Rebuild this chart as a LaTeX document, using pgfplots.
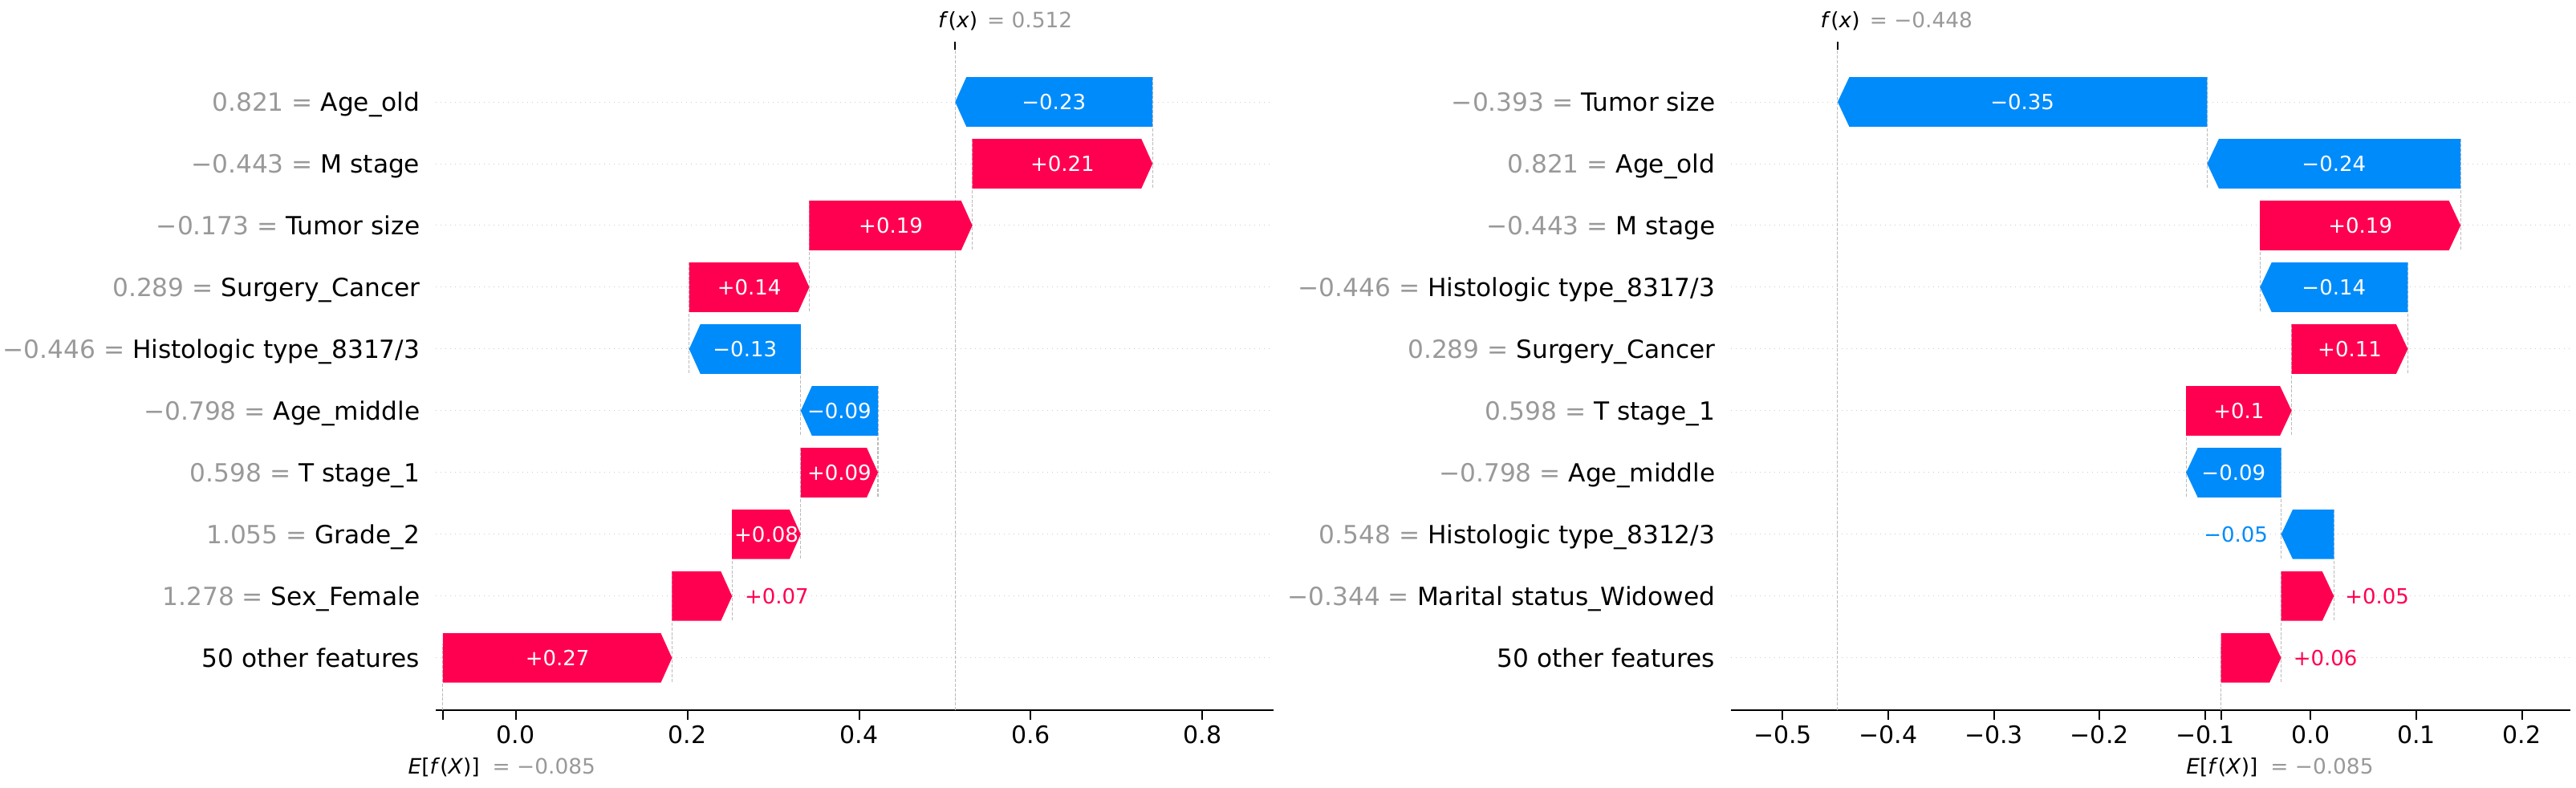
\documentclass[border=0pt]{standalone}
\usepackage{fontspec}
\setmainfont{DejaVu Sans}
\usepackage{pgfplots}
\pgfplotsset{compat=1.18}

\definecolor{shapred}{HTML}{FF0051}
\definecolor{shapblue}{HTML}{008BFB}
\definecolor{lblgray}{HTML}{999999}
\definecolor{gridgray}{HTML}{CCCCCC}
\definecolor{vgray}{HTML}{BBBBBB}

\newcommand{\ylfont}{\fontsize{7.8}{9}\selectfont}
\newcommand{\xlfont}{\fontsize{7.5}{9}\selectfont}
\newcommand{\barfont}{\fontsize{6.5}{8}\selectfont}
\newcommand{\annfont}{\fontsize{6.6}{8}\selectfont}
\newcommand{\gv}[1]{\textcolor{lblgray}{#1}}

\pgfplotsset{
  shapbase/.style={
    scale only axis, width=261pt, height=205.75pt, anchor=south west,
    ymin=-0.845, ymax=9.845,
  },
  shapmain/.style={
    shapbase,
    axis x line*=bottom, axis y line*=left,
    y axis line style={draw=none},
    x axis line style={line width=0.6pt},
    ytick={0,...,9}, ytick style={draw=none},
    ymajorgrids,
    grid style={gridgray, line width=0.25pt, dash pattern=on 0.3pt off 1.2pt},
    xtick style={line width=0.5pt, black},
    tick align=outside, major tick length=3pt,
    xticklabel style={anchor=center, inner sep=0pt, yshift=-4.75pt, font=\xlfont},
    yticklabel style={anchor=base east, inner sep=0pt, xshift=-1.75pt, yshift=-2.85pt, font=\ylfont},
  },
  % overlay axis that only carries the f(x) tick on top
  fxaxis/.style={
    shapbase,
    axis x line*=top, axis y line=none,
    x axis line style={draw=none},
    xtick style={line width=0.5pt, black},
    tick align=outside, major tick length=2.5pt,
    xticklabel style={anchor=west, inner sep=0pt, xshift=-5.5pt, yshift=6.5pt, font=\annfont},
  },
  % overlay axis that only carries the E[f(X)] tick at the bottom
  efaxis/.style={
    shapbase,
    axis x line*=bottom, axis y line=none,
    x axis line style={draw=none},
    xtick style={line width=0.5pt, black},
    tick align=outside, major tick length=3pt,
    xticklabel style={anchor=west, inner sep=0pt, xshift=-11pt, yshift=-14.75pt, font=\annfont},
  },
  vline/.style={vgray, line width=0.27pt, dash pattern=on 1pt off 0.45pt, unbounded coords=jump},
  posbar/.style={fill=shapred, draw=none},
  negbar/.style={fill=shapblue, draw=none},
  barlabels/.style 2 args={
    only marks, mark=*, mark size=0pt, mark options={draw=none, fill=none},
    point meta=explicit symbolic, nodes near coords,
    every node near coord/.style={anchor=#1, inner sep=0pt, font=\barfont, text=#2},
  },
}

\begin{document}
\begin{tikzpicture}
\useasboundingbox (0,0) rectangle (802.5pt,245.5pt);

% ---------------- left panel ----------------
\begin{axis}[shapmain, at={(135.75pt,24.25pt)},
  xmin=-0.0933, xmax=0.883,
  xtick={0,0.2,0.4,0.6,0.8}, xticklabels={0.0,0.2,0.4,0.6,0.8},
  yticklabels={
    {50 other features},
    {\gv{1.278 = }Sex\_Female},
    {\gv{1.055 = }Grade\_2},
    {\gv{0.598 = }T stage\_1},
    {\gv{−0.798 = }Age\_middle},
    {\gv{−0.446 = }Histologic type\_8317/3},
    {\gv{0.289 = }Surgery\_Cancer},
    {\gv{−0.173 = }Tumor size},
    {\gv{−0.443 = }M stage},
    {\gv{0.821 = }Age\_old}},
]
% connector lines
\addplot[vline] coordinates {(0.742,9.4) (0.742,7.6) (nan,nan) (0.532,8.4) (0.532,6.6) (nan,nan)
  (0.342,7.4) (0.342,5.6) (nan,nan) (0.202,6.4) (0.202,4.6) (nan,nan) (0.332,5.4) (0.332,3.6) (nan,nan)
  (0.422,4.4) (0.422,2.6) (nan,nan) (0.332,3.4) (0.332,1.6) (nan,nan) (0.252,2.4) (0.252,0.6) (nan,nan)
  (0.182,1.4) (0.182,-0.4)};
\addplot[vline] coordinates {(0.512,-0.845) (0.512,9.845)};
\addplot[vline] coordinates {(-0.085,-0.845) (-0.085,0.224)};
% bars (arrows)
\addplot[negbar] coordinates {(0.742,8.6) (0.525,8.6) (0.512,9) (0.525,9.4) (0.742,9.4)} --cycle;
\addplot[posbar] coordinates {(0.532,7.6) (0.729,7.6) (0.742,8) (0.729,8.4) (0.532,8.4)} --cycle;
\addplot[posbar] coordinates {(0.342,6.6) (0.519,6.6) (0.532,7) (0.519,7.4) (0.342,7.4)} --cycle;
\addplot[posbar] coordinates {(0.202,5.6) (0.329,5.6) (0.342,6) (0.329,6.4) (0.202,6.4)} --cycle;
\addplot[negbar] coordinates {(0.332,4.6) (0.215,4.6) (0.202,5) (0.215,5.4) (0.332,5.4)} --cycle;
\addplot[negbar] coordinates {(0.422,3.6) (0.345,3.6) (0.332,4) (0.345,4.4) (0.422,4.4)} --cycle;
\addplot[posbar] coordinates {(0.332,2.6) (0.409,2.6) (0.422,3) (0.409,3.4) (0.332,3.4)} --cycle;
\addplot[posbar] coordinates {(0.252,1.6) (0.319,1.6) (0.332,2) (0.319,2.4) (0.252,2.4)} --cycle;
\addplot[posbar] coordinates {(0.182,0.6) (0.239,0.6) (0.252,1) (0.239,1.4) (0.182,1.4)} --cycle;
\addplot[posbar] coordinates {(-0.085,-0.4) (0.169,-0.4) (0.182,0) (0.169,0.4) (-0.085,0.4)} --cycle;
% value labels
\addplot[barlabels={center}{white}] coordinates {
  (0.627,9) [−0.23] (0.637,8) [+0.21] (0.437,7) [+0.19] (0.272,6) [+0.14] (0.267,5) [−0.13]
  (0.377,4) [−0.09] (0.377,3) [+0.09] (0.292,2) [+0.08] (0.0485,0) [+0.27]};
\addplot[barlabels={west}{shapred}] coordinates {(0.266,1) [+0.07]};
\end{axis}
\begin{axis}[fxaxis, at={(135.75pt,24.25pt)}, xmin=-0.0933, xmax=0.883,
  xtick={0.512}, xticklabels={{\textit{f}(\textit{x})\hspace{3pt}\gv{= 0.512}}}]
\addplot[draw=none] coordinates {(0,0)};
\end{axis}
\begin{axis}[efaxis, at={(135.75pt,24.25pt)}, xmin=-0.0933, xmax=0.883,
  xtick={-0.085}, xticklabels={{\textit{E}[\textit{f}(\textit{X})]\hspace{4pt}\gv{= −0.085}}}]
\addplot[draw=none] coordinates {(0,0)};
\end{axis}

% ---------------- right panel ----------------
\begin{axis}[shapmain, at={(539.25pt,24.25pt)}, width=261.5pt,
  xmin=-0.549, xmax=0.246,
  xtick={-0.5,-0.4,-0.3,-0.2,-0.1,0,0.1,0.2},
  xticklabels={−0.5,−0.4,−0.3,−0.2,−0.1,0.0,0.1,0.2},
  yticklabels={
    {50 other features},
    {\gv{−0.344 = }Marital status\_Widowed},
    {\gv{0.548 = }Histologic type\_8312/3},
    {\gv{−0.798 = }Age\_middle},
    {\gv{0.598 = }T stage\_1},
    {\gv{0.289 = }Surgery\_Cancer},
    {\gv{−0.446 = }Histologic type\_8317/3},
    {\gv{−0.443 = }M stage},
    {\gv{0.821 = }Age\_old},
    {\gv{−0.393 = }Tumor size}},
]
\addplot[vline] coordinates {(-0.098,9.4) (-0.098,7.6) (nan,nan) (0.142,8.4) (0.142,6.6) (nan,nan)
  (-0.048,7.4) (-0.048,5.6) (nan,nan) (0.092,6.4) (0.092,4.6) (nan,nan) (-0.018,5.4) (-0.018,3.6) (nan,nan)
  (-0.118,4.4) (-0.118,2.6) (nan,nan) (-0.028,3.4) (-0.028,1.6) (nan,nan) (0.022,2.4) (0.022,0.6) (nan,nan)
  (-0.028,1.4) (-0.028,-0.4)};
\addplot[vline] coordinates {(-0.448,-0.845) (-0.448,9.845)};
\addplot[vline] coordinates {(-0.085,-0.845) (-0.085,0.224)};
\addplot[negbar] coordinates {(-0.098,8.6) (-0.437,8.6) (-0.448,9) (-0.437,9.4) (-0.098,9.4)} --cycle;
\addplot[negbar] coordinates {(0.142,7.6) (-0.087,7.6) (-0.098,8) (-0.087,8.4) (0.142,8.4)} --cycle;
\addplot[posbar] coordinates {(-0.048,6.6) (0.131,6.6) (0.142,7) (0.131,7.4) (-0.048,7.4)} --cycle;
\addplot[negbar] coordinates {(0.092,5.6) (-0.037,5.6) (-0.048,6) (-0.037,6.4) (0.092,6.4)} --cycle;
\addplot[posbar] coordinates {(-0.018,4.6) (0.081,4.6) (0.092,5) (0.081,5.4) (-0.018,5.4)} --cycle;
\addplot[posbar] coordinates {(-0.118,3.6) (-0.029,3.6) (-0.018,4) (-0.029,4.4) (-0.118,4.4)} --cycle;
\addplot[negbar] coordinates {(-0.028,2.6) (-0.107,2.6) (-0.118,3) (-0.107,3.4) (-0.028,3.4)} --cycle;
\addplot[negbar] coordinates {(0.022,1.6) (-0.017,1.6) (-0.028,2) (-0.017,2.4) (0.022,2.4)} --cycle;
\addplot[posbar] coordinates {(-0.028,0.6) (0.011,0.6) (0.022,1) (0.011,1.4) (-0.028,1.4)} --cycle;
\addplot[posbar] coordinates {(-0.085,-0.4) (-0.039,-0.4) (-0.028,0) (-0.039,0.4) (-0.085,0.4)} --cycle;
\addplot[barlabels={center}{white}] coordinates {
  (-0.273,9) [−0.35] (0.022,8) [−0.24] (0.047,7) [+0.19] (0.022,6) [−0.14] (0.037,5) [+0.11]
  (-0.068,4) [+0.1] (-0.073,3) [−0.09]};
\addplot[barlabels={east}{shapblue}] coordinates {(-0.040,2) [−0.05]};
\addplot[barlabels={west}{shapred}] coordinates {(0.032,1) [+0.05] (-0.017,0) [+0.06]};
\end{axis}
\begin{axis}[fxaxis, at={(539.25pt,24.25pt)}, width=261.5pt, xmin=-0.549, xmax=0.246,
  xtick={-0.448}, xticklabels={{\textit{f}(\textit{x})\hspace{3pt}\gv{= −0.448}}}]
\addplot[draw=none] coordinates {(0,0)};
\end{axis}
\begin{axis}[efaxis, at={(539.25pt,24.25pt)}, width=261.5pt, xmin=-0.549, xmax=0.246,
  xtick={-0.085}, xticklabels={{\textit{E}[\textit{f}(\textit{X})]\hspace{4pt}\gv{= −0.085}}}]
\addplot[draw=none] coordinates {(0,0)};
\end{axis}
\end{tikzpicture}
\end{document}
